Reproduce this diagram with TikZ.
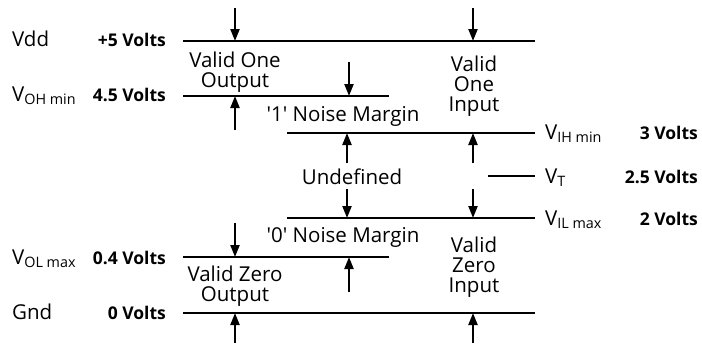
\documentclass[tikz,border=0pt]{standalone}
\usepackage{fontspec}
\setmainfont{Open Sans}
\usetikzlibrary{arrows.meta}
\tikzset{
	levelline/.style={line width=1.6pt},
	marginarr/.style={-{Triangle[length=12pt, width=9pt]}, line width=2.2pt},
	zonelbl/.style={align=center, inner sep=0pt, font=\fontsize{20.5}{20}\selectfont},
	siglbl/.style={anchor=base west, inner sep=0pt, font=\fontsize{20.5}{20}\selectfont},
	voltlbl/.style={anchor=base east, inner sep=0pt, font=\fontsize{17.5}{18}\selectfont\bfseries},
}

\begin{document}
\begin{tikzpicture}[x=1pt, y=-1pt]
	\useasboundingbox (0,0) rectangle (702,343);
	% level lines
	\coordinate (vdd) at (183,41);   \coordinate (vdd-r) at (535,41);
	\coordinate (voh) at (183,96);   \coordinate (voh-r) at (389,96);
	\coordinate (vih) at (287,133);  \coordinate (vih-r) at (535,133);
	\coordinate (vt) at (488,176);   \coordinate (vt-r) at (535,176);
	\coordinate (vil) at (287,218);  \coordinate (vil-r) at (535,218);
	\coordinate (vol) at (183,257);  \coordinate (vol-r) at (389,257);
	\coordinate (gnd) at (183,313);  \coordinate (gnd-r) at (535,313);
	\foreach \n in {vdd, voh, vih, vt, vil, vol, gnd}
		\draw[levelline] (\n) -- (\n-r);

	% signal names and voltages
	\node[siglbl] (vdd-n) at (12,46) {Vdd};
	\node[siglbl] (voh-n) at (12,101) {V\textsubscript{OH min}};
	\node[siglbl] (vol-n) at (12,264) {V\textsubscript{OL max}};
	\node[siglbl] (gnd-n) at (12,319) {Gnd};
	\node[voltlbl] (vdd-v) at (166,46) {+5 Volts};
	\node[voltlbl] (voh-v) at (166,101) {4.5 Volts};
	\node[voltlbl] (vol-v) at (166,264) {0.4 Volts};
	\node[voltlbl] (gnd-v) at (166,319) {0 Volts};
	\node[siglbl] (vih-n) at (545,139) {V\textsubscript{IH min}};
	\node[siglbl] (vt-n) at (545,183) {V\textsubscript{T}};
	\node[siglbl] (vil-n) at (545,225) {V\textsubscript{IL max}};
	\node[voltlbl] (vih-v) at (698,139) {3 Volts};
	\node[voltlbl] (vt-v) at (698,183) {2.5 Volts};
	\node[voltlbl] (vil-v) at (698,225) {2 Volts};

	% regions
	\node[zonelbl] (oneout) at (235,72) {Valid One\\Output};
	\node[zonelbl] (onein) at (474,86) {Valid\\One\\Input};
	\node[zonelbl] (nm1) at (343,116) {\textquotesingle 1\textquotesingle{} Noise Margin};
	\node[zonelbl] (undef) at (352,177) {Undefined};
	\node[zonelbl] (nm0) at (343,237) {\textquotesingle 0\textquotesingle{} Noise Margin};
	\node[zonelbl] (zeroin) at (474,267) {Valid\\Zero\\Input};
	\node[zonelbl] (zeroout) at (235,286) {Valid Zero\\Output};

	% margin arrows
	\foreach \a/\x/\y/\tgt in {a1/235/8/vdd, a2/235/130/voh, a3/235/223/vol, a4/235/343/gnd,
			b1/349/62/voh, b2/347/163/vih, b3/347/189/vil, b4/349/292/vol,
			c1/473/8/vdd, c2/473/163/vih, c3/473/189/vil, c4/473/343/gnd} {
		\coordinate (\a) at (\x,\y);
		\draw[marginarr] (\a) -- (\a |- \tgt);
	}
\end{tikzpicture}
\end{document}
